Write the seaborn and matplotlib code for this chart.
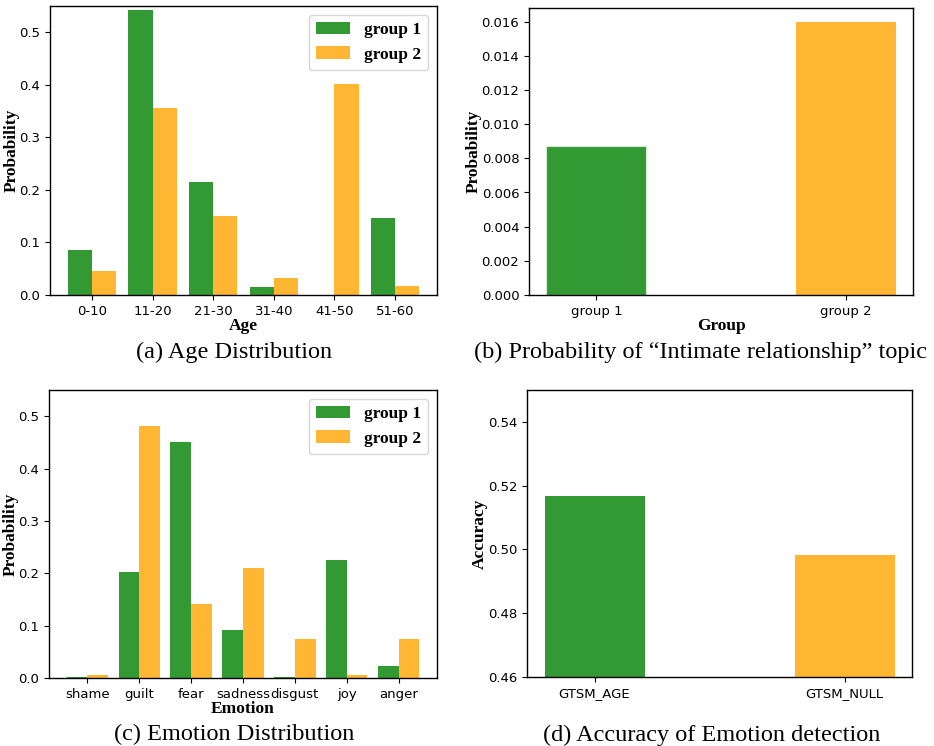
import pandas as pd
import matplotlib
matplotlib.use("Agg")
import matplotlib.pyplot as plt
import seaborn as sns

# data
age_bins = ['0-10', '11-20', '21-30', '31-40', '41-50', '51-60']
age_g1 = [0.0854, 0.542, 0.215, 0.0146, 0.0, 0.1465]
age_g2 = [0.045, 0.355, 0.150, 0.0325, 0.4025, 0.0166]

groups = ['group 1', 'group 2']
intimate_prob = [0.00872, 0.0160]

emotions = ['shame', 'guilt', 'fear', 'sadness', 'disgust', 'joy', 'anger']
emo_g1 = [0.0025, 0.203, 0.450, 0.092, 0.0025, 0.226, 0.0236]
emo_g2 = [0.0064, 0.482, 0.142, 0.211, 0.075, 0.0064, 0.075]

models = ['GTSM_AGE', 'GTSM_NULL']
accuracy = [0.5169, 0.4983]

green = '#339933'
orange = '#FFB733'
pal = [green, orange]

serif = 'Liberation Serif'
labfont = dict(family=serif, weight='bold', size=12.5)
legfont = dict(family=serif, weight='bold', size=12.5)

W, H = 934, 746
fig = plt.figure(figsize=(W / 100, H / 100), dpi=100)


def box(l, t, r, b):
    return [l / W, 1 - b / H, (r - l) / W, (b - t) / H]


def style(ax):
    for s in ax.spines.values():
        s.set_visible(True)
        s.set_color('black')
        s.set_linewidth(1.0)
    ax.tick_params(labelsize=9.5)


def long_df(cats, a, b, col):
    return pd.DataFrame({col: cats * 2,
                         'val': a + b,
                         'grp': ['group 1'] * len(cats) + ['group 2'] * len(cats)})


# (a) age distribution
ax1 = fig.add_axes(box(50, 6, 437, 295))
df_age = long_df(age_bins, age_g1, age_g2, 'Age')
sns.barplot(data=df_age, x='Age', y='val', hue='grp', palette=pal,
            saturation=1, errorbar=None, width=0.8, ax=ax1)
ax1.set_xlim(-0.69, 5.69)
ax1.set_ylim(0, 0.55)
ax1.set_xlabel('Age', fontdict=labfont, labelpad=0)
ax1.set_ylabel('Probability', fontdict=labfont, labelpad=0)
h, l = ax1.get_legend_handles_labels()
ax1.legend(h, l, loc='upper right', prop=legfont)
style(ax1)

# (b) intimate relationship topic
ax2 = fig.add_axes(box(529, 8, 913, 295))
df_int = pd.DataFrame({'Group': groups, 'val': intimate_prob})
sns.barplot(data=df_int, x='Group', y='val', hue='Group', palette=pal,
            saturation=1, errorbar=None, width=0.4, legend=False, ax=ax2)
ax2.patches[0].set_edgecolor('#d4ead4')
ax2.patches[0].set_linewidth(0.8)
ax2.set_xlim(-0.27, 1.27)
ax2.set_ylim(0, 0.0168)
ax2.set_xlabel('Group', fontdict=labfont, labelpad=0)
ax2.set_ylabel('Probability', fontdict=labfont, labelpad=0)
style(ax2)

# (c) emotion distribution
ax3 = fig.add_axes(box(49, 390, 437, 678))
df_emo = long_df(emotions, emo_g1, emo_g2, 'Emotion')
sns.barplot(data=df_emo, x='Emotion', y='val', hue='grp', palette=pal,
            saturation=1, errorbar=None, width=0.8, ax=ax3)
ax3.set_xlim(-0.74, 6.74)
ax3.set_ylim(0, 0.55)
ax3.set_xlabel('Emotion', fontdict=labfont, labelpad=0)
ax3.set_ylabel('Probability', fontdict=labfont, labelpad=0)
h, l = ax3.get_legend_handles_labels()
ax3.legend(h, l, loc='upper right', prop=legfont)
style(ax3)

# (d) accuracy
ax4 = fig.add_axes(box(527, 390, 912, 677))
df_acc = pd.DataFrame({'Model': models, 'val': accuracy})
sns.barplot(data=df_acc, x='Model', y='val', hue='Model', palette=pal,
            saturation=1, errorbar=None, width=0.4, legend=False, ax=ax4)
ax4.set_xlim(-0.27, 1.27)
ax4.set_ylim(0.46, 0.55)
ax4.set_yticks([0.46, 0.48, 0.50, 0.52, 0.54])
ax4.set_xlabel('')
ax4.set_ylabel('Accuracy', fontdict=labfont, labelpad=0)
style(ax4)

# sub-captions
cap = dict(family=serif, size=17.5, ha='center', va='center')
fig.text(234 / W, 1 - 352 / H, '(a) Age Distribution', **cap)
fig.text(700 / W, 1 - 352 / H, '(b) Probability of \u201cIntimate relationship\u201d topic', **cap)
fig.text(234 / W, 1 - 734 / H, '(c) Emotion Distribution', **cap)
fig.text(712 / W, 1 - 735 / H, '(d) Accuracy of Emotion detection', **cap)

fig.savefig('out.png', dpi=100)
